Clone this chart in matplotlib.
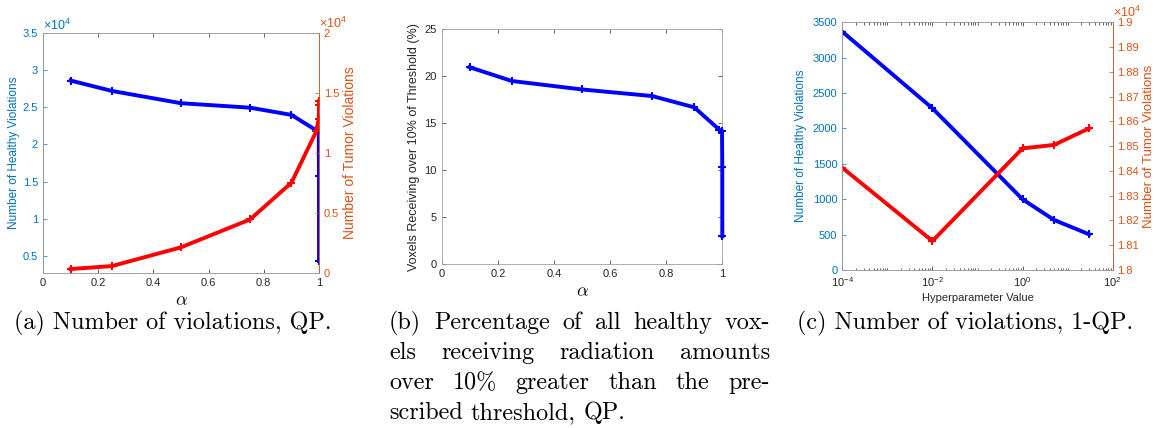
import numpy as np
import matplotlib.pyplot as plt
from matplotlib.ticker import FuncFormatter, FixedLocator, LogLocator, NullFormatter

plt.rcParams['font.family'] = ['Liberation Sans', 'DejaVu Sans']
plt.rcParams['mathtext.fontset'] = 'cm'

# values
alpha = [0.1, 0.25, 0.5, 0.75, 0.9, 0.99, 0.999, 0.9999, 1.0]
healthy_qp = [28600, 27200, 25550, 24950, 23980, 21900, 21800, 15800, 4300]
tumor_qp = [330, 580, 2140, 4460, 7520, 11800, 12800, 14000, 14300]
pct_qp = [20.96, 19.5, 18.6, 17.9, 16.7, 14.3, 14.2, 10.3, 3.0]
hyper = [1e-4, 1e-2, 1, 5, 30]
healthy_1qp = [3368, 2285, 999, 707, 504]
tumor_1qp = [18413, 18117, 18491, 18505, 18572]

cap_a = "(a) Number of violations, QP."
cap_c = "(c) Number of violations, 1-QP."
cap_b = [["(b)", "Percentage", "of", "all", "healthy", "vox-"],
         ["els", "receiving", "radiation", "amounts"],
         ["over", "10%", "greater", "than", "the", "pre-"],
         ["scribed", "threshold,", "QP."]]

LBLUE = '#0072BD'
ORANGE = '#D95319'
DARK = '#262626'
W, H = 1157, 428

fig = plt.figure(figsize=(W / 100, H / 100), dpi=100)


def box(l, t, r, b):
    return [l / W, 1 - b / H, (r - l) / W, (b - t) / H]


def style(ax):
    ax.tick_params(direction='in', length=3, width=0.5, labelsize=8, colors=DARK)
    for s in ax.spines.values():
        s.set_linewidth(0.6)
        s.set_color('#a0a0a0')


def sci(v, p):
    return '%g' % round(v / 1e4, 2)


def expo(v, p):
    return r'$\mathregular{10^{%d}}$' % round(np.log10(v))


lw = 2.8
ms = 6
xt = [0, 0.2, 0.4, 0.6, 0.8, 1]
xtl = ['0', '0.2', '0.4', '0.6', '0.8', '1']
mult = r'$\mathregular{\times10^{4}}$'

# ---- (a)
pos_a = box(43, 33, 319, 273)
ax1 = fig.add_axes(pos_a)
style(ax1)
ax1.plot(alpha, healthy_qp, 'b-+', lw=lw, ms=ms, mew=1.5)
ax1.set_xlim(0, 1)
ax1.set_ylim(2700, 35000)
ax1.set_xticks(xt)
ax1.set_xticklabels(xtl)
ax1.set_yticks(np.arange(5000, 35001, 5000))
ax1.yaxis.set_major_formatter(FuncFormatter(sci))
ax1.tick_params(axis='y', colors=LBLUE)
ax1.tick_params(axis='x', top=True)
ax1.spines['left'].set_color(LBLUE)
ax1.set_ylabel('Number of Healthy Violations', color=LBLUE, fontsize=8.5, labelpad=2)
ax1.set_xlabel(r'$\alpha$', fontsize=13, labelpad=3)
ax1.text(0.0, 1.0, mult, color=LBLUE, fontsize=9, transform=ax1.transAxes,
         va='bottom', ha='left')
ax1r = ax1.twinx()
ax1r.set_position(pos_a)
style(ax1r)
ax1r.plot(alpha, tumor_qp, 'r-+', lw=lw, ms=ms, mew=1.5)
ax1r.set_ylim(0, 20000)
ax1r.set_yticks(np.arange(0, 20001, 5000))
ax1r.yaxis.set_major_formatter(FuncFormatter(sci))
ax1r.tick_params(axis='y', colors=ORANGE)
ax1r.spines['right'].set_color(ORANGE)
ax1r.set_ylabel('Number of Tumor Violations', color=ORANGE, fontsize=10, labelpad=3)
ax1r.text(1.0, 1.008, mult, color=ORANGE, fontsize=9, transform=ax1r.transAxes,
          va='bottom', ha='left')

# ---- (b)
ax2 = fig.add_axes(box(441.7, 29.3, 722.3, 264.3))
style(ax2)
ax2.plot(alpha, pct_qp, 'b-+', lw=lw, ms=ms, mew=1.5, clip_on=False, zorder=3)
ax2.set_xlim(0, 1)
ax2.set_ylim(0, 25)
ax2.set_xticks(xt)
ax2.set_xticklabels(xtl)
ax2.tick_params(top=True, right=True)
ax2.set_ylabel('Voxels Receiving over 10% of Threshold (%)', fontsize=9, color=DARK, labelpad=3)
ax2.set_xlabel(r'$\alpha$', fontsize=13, labelpad=3)

# ---- (c)
pos_c = box(842.3, 22.3, 1112.7, 270)
ax3 = fig.add_axes(pos_c)
style(ax3)
ax3.semilogx(hyper, healthy_1qp, 'b-+', lw=lw, ms=ms, mew=1.5)
ax3r = ax3.twinx()
ax3r.set_position(pos_c)
style(ax3r)
ax3r.semilogx(hyper, tumor_1qp, 'r-+', lw=lw, ms=ms, mew=1.5)

ax3.set_xlim(1e-4, 1e2)
ax3.set_ylim(0, 3500)
ax3.set_yticks(np.arange(0, 3501, 500))
ax3.xaxis.set_major_locator(FixedLocator([1e-4, 1e-2, 1, 1e2]))
ax3.xaxis.set_major_formatter(FuncFormatter(expo))
ax3.xaxis.set_minor_locator(LogLocator(base=10, subs=np.arange(1, 10), numticks=20))
ax3.xaxis.set_minor_formatter(NullFormatter())
ax3.tick_params(axis='x', which='both', top=True, direction='in', width=0.5, colors=DARK)
ax3.tick_params(axis='x', which='minor', length=1.8)
ax3.tick_params(axis='y', colors=LBLUE)
ax3.spines['left'].set_color(LBLUE)
ax3.set_ylabel('Number of Healthy Violations', color=LBLUE, fontsize=8.5, labelpad=4)
ax3.set_xlabel('Hyperparameter Value', fontsize=8, color=DARK, labelpad=3)

ax3r.set_ylim(18000, 19000)
ax3r.set_yticks(np.arange(18000, 19001, 100))
ax3r.yaxis.set_major_formatter(FuncFormatter(sci))
ax3r.tick_params(axis='y', colors=ORANGE)
ax3r.spines['right'].set_color(ORANGE)
ax3r.set_ylabel('Number of Tumor Violations', color=ORANGE, fontsize=9.5, labelpad=3)
ax3r.text(1.0, 1.01, mult, color=ORANGE, fontsize=9, transform=ax3r.transAxes,
          va='bottom', ha='left')

# ---- captions (serif, like the LaTeX document)
cfont = dict(family='cmr10', fontsize=17.4, color='black')
fig.text(173 / W, 1 - 323 / H, cap_a, ha='center', va='center', **cfont)
fig.text(965 / W, 1 - 323 / H, cap_c, ha='center', va='center', **cfont)

# justified paragraph for (b)
x0, x1 = 389, 770
ys = [323, 353, 383, 413]
renderer = fig.canvas.get_renderer()
sp = fig.text(0, 0, 'a a', **cfont)
space = sp.get_window_extent(renderer).width
sp.set_text('aa')
space -= sp.get_window_extent(renderer).width
sp.remove()
for i, (words, y) in enumerate(zip(cap_b, ys)):
    texts = [fig.text(0, 1 - y / H, w, ha='left', va='center', **cfont) for w in words]
    widths = [t.get_window_extent(renderer).width for t in texts]
    if i < len(cap_b) - 1:
        gap = (x1 - x0 - sum(widths)) / (len(words) - 1)
    else:
        gap = space
    x = x0
    for t, w in zip(texts, widths):
        t.set_x(x / W)
        x += w + gap

fig.savefig('out.png', dpi=100)
